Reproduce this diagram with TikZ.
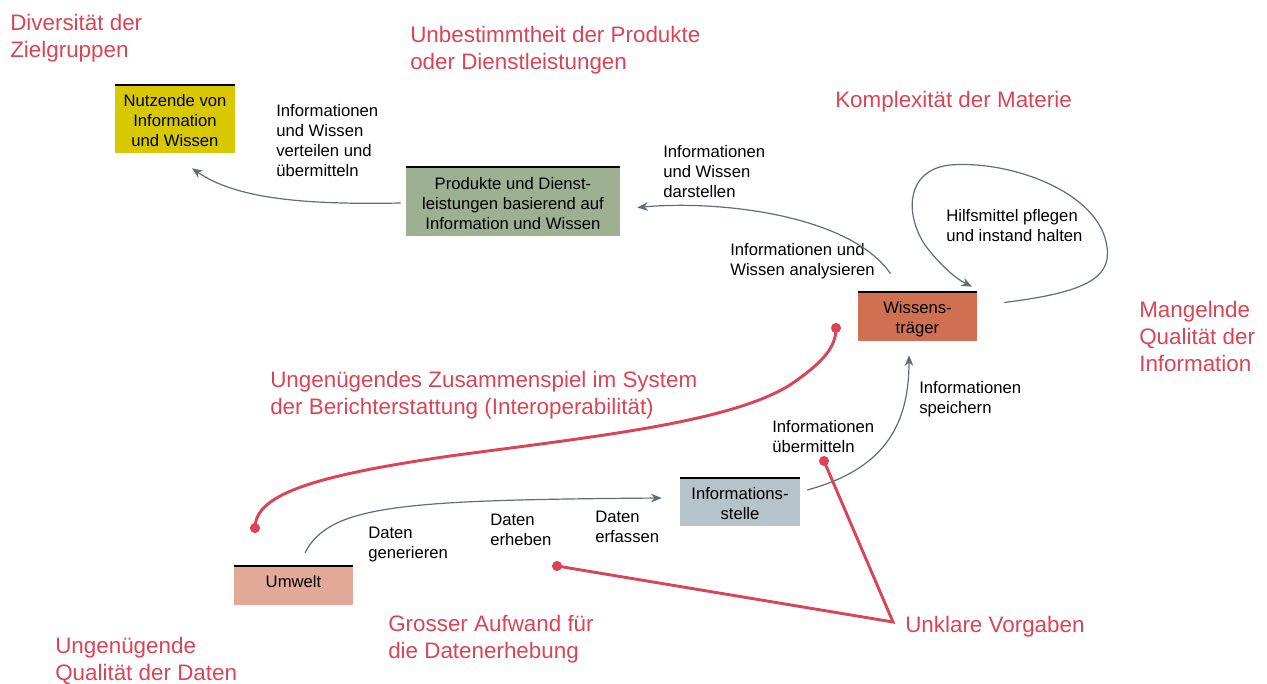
\documentclass[tikz,border=0pt]{standalone}
\usepackage{fontspec}
\setmainfont{Liberation Sans}
\usetikzlibrary{arrows.meta,calc}

\definecolor{probred}{RGB}{218,68,84}
\definecolor{flowgray}{RGB}{94,110,120}
\definecolor{cYellow}{RGB}{215,200,0}
\definecolor{cGreen}{RGB}{157,176,145}
\definecolor{cOrange}{RGB}{208,112,80}
\definecolor{cSteel}{RGB}{181,196,202}
\definecolor{cSalmon}{RGB}{226,168,152}

\tikzset{
  box/.style={inner sep=0pt},
  boxtext/.style={inner sep=0pt, align=center, font=\fontsize{12.5}{15}\selectfont},
  lbl/.style={inner sep=0pt, anchor=north west, align=left, font=\fontsize{12.5}{15}\selectfont},
  prob/.style={inner sep=0pt, anchor=north west, align=left, text=probred, font=\fontsize{16.8}{20.2}\selectfont},
  flow/.style={draw=flowgray, line width=0.9pt, -{Stealth[length=8pt,width=6.5pt]}},
  link/.style={draw=probred, line width=2.2pt},
  dot/.style={fill=probred},
  topline/.style={line width=1.4pt, black}
}

\begin{document}
\begin{tikzpicture}[x=0.75pt,y=-0.75pt]
\useasboundingbox (0,0) rectangle (1267,684);

% boxes
\node[box, fill=cYellow, minimum width=90pt, minimum height=51pt] (nutz) at (175,119) {};
\node[box, fill=cGreen, minimum width=160.5pt, minimum height=51.75pt] (prod) at (513,201.5) {};
\node[box, fill=cOrange, minimum width=89.25pt, minimum height=36.75pt] (wiss) at (917.5,316.5) {};
\node[box, fill=cSteel, minimum width=90pt, minimum height=36pt] (info) at (740,502) {};
\node[box, fill=cSalmon, minimum width=89.25pt, minimum height=29.25pt] (umw) at (293.5,585.5) {};
\foreach \n in {nutz,prod,wiss,info,umw}
  \draw[topline] (\n.north west) -- (\n.north east);

% box texts
\node[boxtext] (nutzT) at ($(nutz.center)+(0,2)$) {Nutzende von\\Information\\und Wissen};
\node[boxtext] (prodT) at ($(prod.center)+(0,2)$) {Produkte und Dienst-\\leistungen basierend auf\\Information und Wissen};
\node[boxtext] (wissT) at ($(wiss.center)+(0,2.5)$) {Wissens-\\träger};
\node[boxtext] (infoT) at ($(info.center)+(0,2)$) {Informations-\\stelle};
\node[boxtext] (umwT) at ($(umw.center)+(0,-4)$) {Umwelt};

% flow labels
\node[lbl] (l1) at (276,104) {Informationen\\und Wissen\\verteilen und\\übermitteln};
\node[lbl] (l2) at (663,145) {Informationen\\und Wissen\\darstellen};
\node[lbl] (l3) at (730,243) {Informationen und\\Wissen analysieren};
\node[lbl] (l4) at (946,209) {Hilfsmittel pflegen\\und instand halten};
\node[lbl] (l5) at (919,381) {Informationen\\speichern};
\node[lbl] (l6) at (772,420) {Informationen\\übermitteln};
\node[lbl] (l7) at (368,527) {Daten\\generieren};
\node[lbl] (l8) at (490,514) {Daten\\erheben};
\node[lbl] (l9) at (595,511) {Daten\\erfassen};

% problem labels
\node[prob] (p1) at (10,14) {Diversität der\\Zielgruppen};
\node[prob] (p2) at (410,26) {Unbestimmtheit der Produkte\\oder Dienstleistungen};
\node[prob] (p3) at (835,91) {Komplexität der Materie};
\node[prob] (p4) at (1139,301) {Mangelnde\\Qualität der\\Information};
\node[prob] (p5) at (270,371) {Ungenügendes Zusammenspiel im System\\der Berichterstattung (Interoperabilität)};
\node[prob] (p6) at (55,637) {Ungenügende\\Qualität der Daten};
\node[prob] (p7) at (388,615) {Grosser Aufwand für\\die Datenerhebung};
\node[prob, anchor=west] (p8) at (905,627) {Unklare Vorgaben};

% flow connectors
\draw[flow] ($(prod.west)+(-5,1.5)$) .. controls (300,205) and (235,198) .. ($(nutz.south)+(17,15)$);
\draw[flow] ($(wiss.north)+(-27,-18)$) .. controls (850,215) and (720,200) .. ($(prod.east)+(17,6)$);
\draw[flow] ($(wiss.east)+(27,-14)$) .. controls (1080,293) and (1112,280) .. (1107,247)
  .. controls (1100,192) and (1010,160) .. (950,165)
  .. controls (905,170) and (905,215) .. (925,245)
  .. controls (940,265) and (955,278) .. ($(wiss.north)+(54.5,-5)$);
\draw[flow] ($(info.east)+(7,-12)$) .. controls (880,470) and (909,430) .. ($(wiss.south)+(-8.5,14)$);
\draw[flow] ($(umw.north)+(11.5,-13)$) .. controls (330,505) and (400,500) .. ($(info.west)+(-18,-4)$);

% problem links
\coordinate (v) at (893,622);
\coordinate (d1) at (255,528);
\coordinate (d2) at (836,328);
\coordinate (d3) at (824,461);
\coordinate (d4) at (557,566);
\draw[link] (d1) .. controls (255,493) and (320,475) .. (450,456)
  .. controls (600,436) and (730,422) .. (790,385)
  .. controls (822,363) and (836,348) .. (d2);
\draw[link] (d3) -- (v) -- (d4);
\foreach \d in {d1,d2,d3,d4}
  \fill[dot] (\d) circle (3.8pt);
\end{tikzpicture}
\end{document}
